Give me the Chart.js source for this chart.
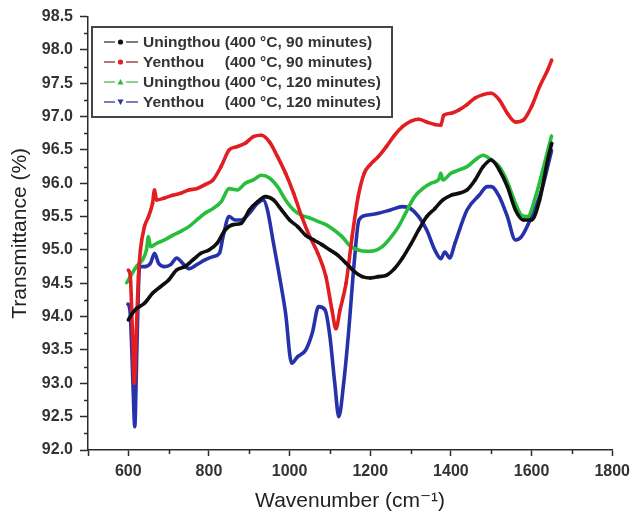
<!DOCTYPE html>
<html>
<head>
<meta charset="utf-8">
<script src="https://cdn.jsdelivr.net/npm/chart.js@4/dist/chart.umd.min.js"></script>
<style>
  html, body { margin: 0; padding: 0; background: #fff; }
  #wrap { width: 636px; height: 518px; }
</style>
</head>
<body>
<div id="wrap"><canvas id="ftirChart" width="636" height="518"></canvas></div>
<script>
// Espectros FTIR
const uning90Wave = [600, 610, 620, 640, 660, 680, 700, 720, 740, 760, 780, 800, 820, 840, 860, 880, 900, 920, 940, 960, 980, 1000, 1020, 1040, 1060, 1080, 1100, 1120, 1140, 1160, 1180, 1200, 1220, 1240, 1260, 1280, 1300, 1320, 1340, 1360, 1380, 1400, 1420, 1440, 1460, 1480, 1500, 1520, 1540, 1560, 1580, 1600, 1620, 1640, 1650];
const uning90T = [93.95, 94.05, 94.12, 94.2, 94.35, 94.45, 94.55, 94.7, 94.75, 94.85, 94.95, 95.0, 95.1, 95.3, 95.38, 95.4, 95.6, 95.72, 95.8, 95.75, 95.6, 95.45, 95.35, 95.22, 95.15, 95.08, 95.0, 94.92, 94.8, 94.68, 94.6, 94.58, 94.6, 94.62, 94.72, 94.88, 95.08, 95.3, 95.5, 95.62, 95.75, 95.82, 95.85, 95.9, 96.05, 96.25, 96.35, 96.2, 95.95, 95.6, 95.45, 95.45, 95.75, 96.35, 96.6];

const yen90Wave = [600, 605, 610, 615, 620, 625, 630, 640, 650, 660, 665, 670, 690, 710, 730, 750, 770, 790, 810, 830, 850, 870, 890, 910, 930, 950, 970, 990, 1010, 1030, 1050, 1070, 1090, 1105, 1115, 1125, 1140, 1155, 1170, 1185, 1200, 1220, 1240, 1260, 1280, 1300, 1320, 1340, 1360, 1375, 1382, 1400, 1420, 1440, 1460, 1480, 1500, 1520, 1540, 1560, 1580, 1600, 1620, 1640, 1650];
const yen90T = [94.7, 94.6, 93.8, 93.0, 93.8, 94.6, 95.0, 95.35, 95.5, 95.7, 95.9, 95.75, 95.78, 95.82, 95.85, 95.9, 95.92, 95.98, 96.05, 96.25, 96.5, 96.55, 96.6, 96.7, 96.72, 96.62, 96.4, 96.15, 95.85, 95.5, 95.2, 94.95, 94.6, 94.1, 93.82, 94.1, 94.5, 95.2, 95.8, 96.15, 96.28, 96.4, 96.55, 96.72, 96.85, 96.93, 96.96, 96.92, 96.88, 96.87, 97.02, 97.05, 97.1, 97.18, 97.28, 97.33, 97.35, 97.25, 97.05, 96.92, 96.95, 97.15, 97.45, 97.7, 97.85];

const uning120Wave = [595, 605, 620, 635, 645, 650, 655, 670, 690, 710, 730, 750, 770, 790, 810, 830, 850, 870, 890, 910, 930, 950, 970, 990, 1010, 1030, 1050, 1070, 1090, 1110, 1130, 1150, 1170, 1190, 1210, 1230, 1250, 1270, 1290, 1310, 1330, 1350, 1370, 1375, 1380, 1400, 1420, 1440, 1460, 1480, 1500, 1520, 1540, 1560, 1575, 1590, 1610, 1630, 1650];
const uning120T = [94.5, 94.6, 94.75, 94.85, 95.0, 95.2, 95.05, 95.1, 95.15, 95.22, 95.28, 95.35, 95.45, 95.55, 95.62, 95.72, 95.92, 95.9, 96.0, 96.05, 96.12, 96.08, 95.95, 95.75, 95.6, 95.52, 95.48, 95.43, 95.38, 95.3, 95.2, 95.06, 95.0, 94.98, 94.99, 95.05, 95.18, 95.35, 95.58, 95.8, 95.92, 96.0, 96.06, 96.15, 96.05, 96.15, 96.2, 96.25, 96.35, 96.42, 96.35, 96.25, 96.02, 95.7, 95.52, 95.5, 95.8, 96.25, 96.72];

const yen120Wave = [598, 604, 608, 612, 616, 620, 624, 628, 640, 655, 665, 675, 690, 705, 720, 735, 750, 770, 790, 810, 826, 835, 850, 865, 880, 900, 920, 935, 945, 960, 975, 990, 1005, 1020, 1040, 1056, 1072, 1088, 1100, 1112, 1122, 1134, 1146, 1160, 1172, 1190, 1220, 1250, 1280, 1300, 1320, 1340, 1360, 1375, 1385, 1397, 1410, 1440, 1470, 1490, 1500, 1520, 1540, 1560, 1575, 1600, 1625, 1650];
const yen120T = [94.2, 94.1, 93.6, 92.9, 92.35, 93.2, 94.2, 94.75, 94.75, 94.8, 94.95, 94.8, 94.75, 94.78, 94.88, 94.8, 94.72, 94.78, 94.85, 94.9, 94.95, 95.2, 95.5, 95.45, 95.45, 95.55, 95.7, 95.75, 95.6, 95.1, 94.6, 94.05, 93.3, 93.4, 93.5, 93.75, 94.15, 94.1, 93.7, 93.0, 92.5, 93.0, 93.75, 94.8, 95.45, 95.52, 95.55, 95.6, 95.65, 95.62, 95.5, 95.3, 95.0, 94.87, 94.97, 94.88, 95.1, 95.6, 95.82, 95.95, 95.95, 95.8, 95.5, 95.15, 95.2, 95.5, 95.9, 96.5];

// Etiquetas
const sampleNames = ['Uningthou', 'Yenthou', 'Uningthou', 'Yenthou'];
const sampleConds = ['(400 °C, 90 minutes)', '(400 °C, 90 minutes)', '(400 °C, 120 minutes)', '(400 °C, 120 minutes)'];
const xTickLabels = [600, 800, 1000, 1200, 1400, 1600, 1800];
const yTickLabels = [92.0, 92.5, 93.0, 93.5, 94.0, 94.5, 95.0, 95.5, 96.0, 96.5, 97.0, 97.5, 98.0, 98.5];

const FONT = '"Liberation Sans", Arial, "DejaVu Sans", sans-serif';
const axisColor = '#2a2a2a';

const seriesWave = [uning90Wave, yen90Wave, uning120Wave, yen120Wave];
const seriesT = [uning90T, yen90T, uning120T, yen120T];
const colors = ['rgb(15,15,15)', 'rgb(226,30,34)', 'rgb(40,190,60)', 'rgb(38,50,170)'];
const legendLineColors = ['rgb(125,125,125)', 'rgb(185,115,115)', 'rgb(140,210,140)', 'rgb(125,125,185)'];
const markers = ['circle', 'circle', 'triangle', 'triangle'];
const markerRot = [0, 0, 0, 180];

const datasets = seriesWave.map((waves, i) => ({
  label: sampleNames[i] + ' ' + sampleConds[i],
  data: waves.map((w, j) => ({ x: w, y: seriesT[i][j] })),
  showLine: true,
  borderColor: colors[i],
  backgroundColor: colors[i],
  borderWidth: 3.6,
  pointRadius: 1.8,
  pointBorderWidth: 0,
  pointStyle: markers[i],
  pointRotation: markerRot[i],
  cubicInterpolationMode: 'monotone'
}));

// Marcas menores en los ejes
const minorTicks = {
  id: 'minorTicks',
  afterDraw(chart) {
    const ctx = chart.ctx, xs = chart.scales.x, ys = chart.scales.y;
    ctx.save();
    ctx.strokeStyle = axisColor;
    ctx.lineWidth = 1.5;
    ctx.beginPath();
    for (let v = 92.25; v < 98.5; v += 0.5) {
      const py = Math.round(ys.getPixelForValue(v)) + 0.5;
      ctx.moveTo(xs.left - 4, py);
      ctx.lineTo(xs.left, py);
    }
    for (let v = 700; v < 1800; v += 200) {
      const px = Math.round(xs.getPixelForValue(v)) + 0.5;
      ctx.moveTo(px, ys.bottom);
      ctx.lineTo(px, ys.bottom + 4);
    }
    ctx.stroke();
    ctx.restore();
  }
};

// Leyenda con recuadro dentro del área del gráfico
const boxLegend = {
  id: 'boxLegend',
  afterDraw(chart) {
    const ctx = chart.ctx;
    const bx = 92, by = 27, bw = 300, bh = 90;
    ctx.save();
    ctx.fillStyle = '#fff';
    ctx.fillRect(bx, by, bw, bh);
    ctx.strokeStyle = '#444';
    ctx.lineWidth = 2;
    ctx.strokeRect(bx, by, bw, bh);
    ctx.font = 'bold 15.5px ' + FONT;
    ctx.textBaseline = 'middle';
    const condX = 143 + ctx.measureText('Uningthou ').width;
    sampleNames.forEach((name, i) => {
      const cy = by + 15 + i * 20;
      ctx.strokeStyle = legendLineColors[i];
      ctx.lineWidth = 2;
      ctx.beginPath();
      ctx.moveTo(104, cy); ctx.lineTo(115, cy);
      ctx.moveTo(126, cy); ctx.lineTo(138, cy);
      ctx.stroke();
      ctx.fillStyle = colors[i];
      ctx.beginPath();
      if (markers[i] === 'circle') {
        ctx.arc(120.5, cy, 2.6, 0, Math.PI * 2);
      } else {
        const d = markerRot[i] ? -1 : 1;
        ctx.moveTo(120.5, cy - 3 * d);
        ctx.lineTo(123.5, cy + 2.5 * d);
        ctx.lineTo(117.5, cy + 2.5 * d);
        ctx.closePath();
      }
      ctx.fill();
      ctx.fillStyle = '#333';
      ctx.fillText(name, 143, cy + 1);
      ctx.fillText(sampleConds[i], condX, cy + 1);
    });
    ctx.restore();
  }
};

const ctx = document.getElementById('ftirChart').getContext('2d');
const ftirChart = new Chart(ctx, {
  type: 'scatter',
  data: { datasets: datasets },
  plugins: [minorTicks, boxLegend],
  options: {
    responsive: false,
    animation: false,
    devicePixelRatio: 1,
    layout: { padding: { left: 0, right: 21, top: 15, bottom: 0 } },
    plugins: {
      legend: { display: false },
      tooltip: { enabled: false }
    },
    scales: {
      x: {
        type: 'linear',
        min: 500,
        max: 1800,
        afterBuildTicks: s => { s.ticks = [500].concat(xTickLabels).map(v => ({ value: v })); },
        afterFit: s => { s.height = 68; },
        border: { color: axisColor, width: 1.5 },
        grid: { drawOnChartArea: false, tickLength: 6, tickColor: axisColor, tickWidth: 1.5 },
        ticks: {
          autoSkip: false,
          maxRotation: 0,
          padding: 6,
          color: '#333',
          font: { family: FONT, size: 16, weight: 'bold' },
          callback: v => xTickLabels.includes(v) ? String(v) : ''
        },
        title: {
          display: true,
          text: 'Wavenumber (cm⁻¹)',
          color: '#222',
          font: { family: FONT, size: 21 },
          padding: { top: 0, bottom: 4 }
        }
      },
      y: {
        type: 'linear',
        min: 92,
        max: 98.5,
        afterBuildTicks: s => { s.ticks = yTickLabels.map(v => ({ value: v })); },
        afterFit: s => { s.width = 88; },
        border: { color: axisColor, width: 1.5 },
        grid: { drawOnChartArea: false, tickLength: 8, tickColor: axisColor, tickWidth: 1.5 },
        ticks: {
          autoSkip: false,
          padding: 7,
          color: '#333',
          font: { family: FONT, size: 16, weight: 'bold' },
          callback: v => v.toFixed(1)
        },
        title: {
          display: true,
          text: 'Transmittance (%)',
          color: '#222',
          font: { family: FONT, size: 21 },
          padding: { top: 8, bottom: 0 }
        }
      }
    }
  }
});
</script>
</body>
</html>
